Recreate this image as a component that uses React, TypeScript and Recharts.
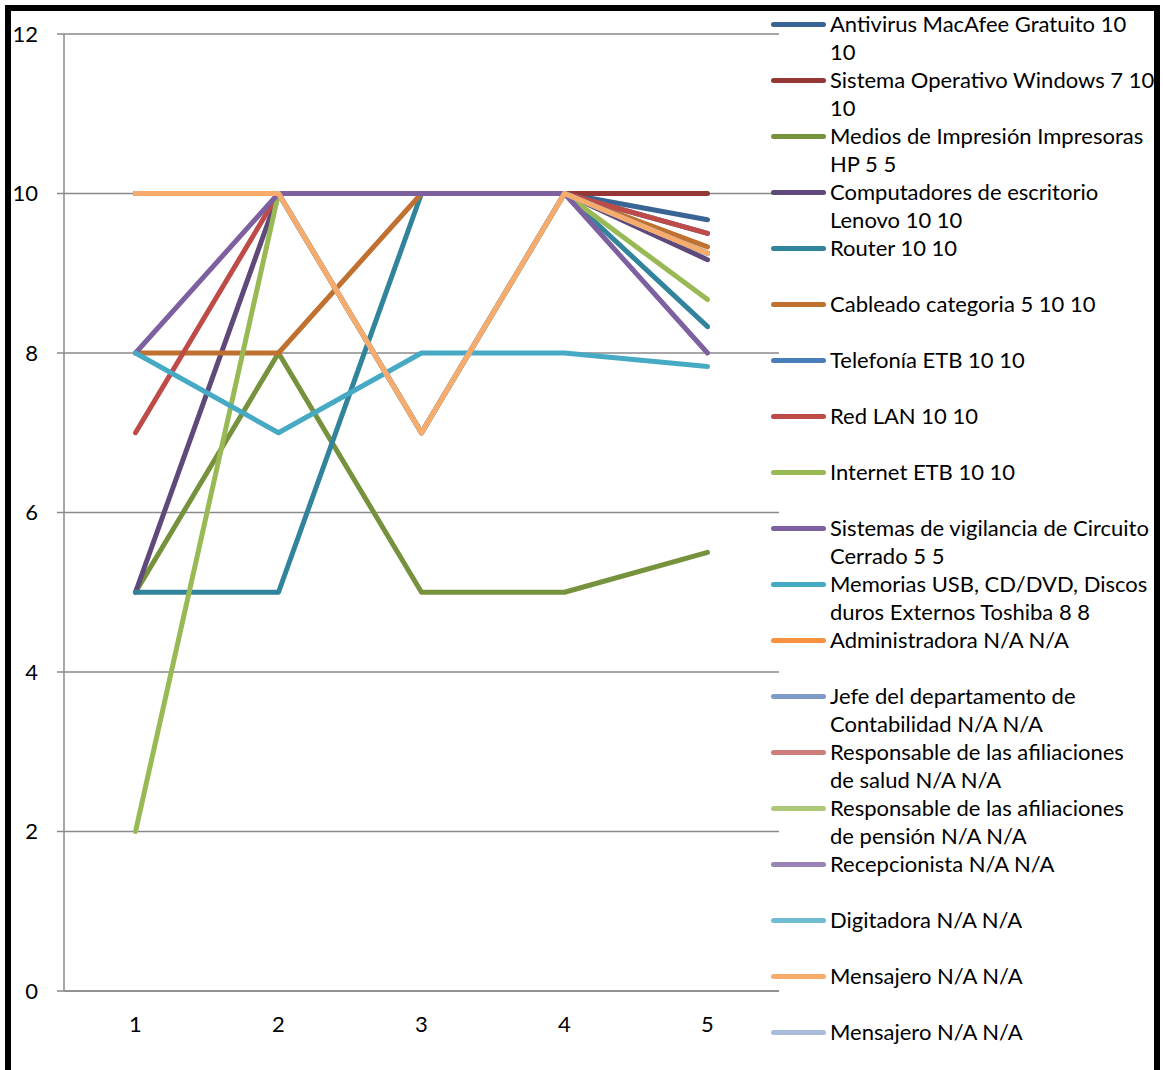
import { LineChart, Line, XAxis, YAxis, CartesianGrid, Legend } from 'recharts'

const categories = [1, 2, 3, 4, 5]

// one array per series, values at categories 1..5
const antivirus = [10, 10, 10, 10, 9.67]
const sistemaOperativo = [10, 10, 10, 10, 10]
const mediosImpresion = [5, 8, 5, 5, 5.5]
const computadores = [5, 10, 10, 10, 9.17]
const router = [5, 5, 10, 10, 8.33]
const cableado = [8, 8, 10, 10, 9.33]
const telefonia = [10, 10, 10, 10, 9.5]
const redLan = [7, 10, 10, 10, 9.5]
const internet = [2, 10, 10, 10, 8.67]
const vigilancia = [8, 10, 10, 10, 8]
const memorias = [8, 7, 8, 8, 7.83]
const administradora = [10, 10, 7, 10, 9.25]
const jefeContabilidad = [10, 10, 7, 10, 9.25]
const respSalud = [10, 10, 7, 10, 9.25]
const respPension = [10, 10, 7, 10, 9.25]
const recepcionista = [10, 10, 7, 10, 9.25]
const digitadora = [10, 10, 7, 10, 9.25]
const mensajero = [10, 10, 7, 10, 9.25]
const mensajero2: (number | null)[] = [null, null, null, null, null]

// legend names, \n marks where the legend wraps
const seriesNames = [
  'Antivirus MacAfee Gratuito 10\n10',
  'Sistema Operativo Windows 7 10\n10',
  'Medios de Impresión Impresoras\nHP 5 5',
  'Computadores de escritorio\nLenovo 10 10',
  'Router 10 10',
  'Cableado categoria 5 10 10',
  'Telefonía ETB 10 10',
  'Red LAN 10 10',
  'Internet ETB 10 10',
  'Sistemas de vigilancia de Circuito\nCerrado 5 5',
  'Memorias USB, CD/DVD, Discos\nduros Externos Toshiba 8 8',
  'Administradora N/A N/A',
  'Jefe del departamento de\nContabilidad N/A N/A',
  'Responsable de las afiliaciones\nde salud N/A N/A',
  'Responsable de las afiliaciones\nde pensión N/A N/A',
  'Recepcionista N/A N/A',
  'Digitadora N/A N/A',
  'Mensajero N/A N/A',
  'Mensajero N/A N/A',
]

const seriesValues = [
  antivirus, sistemaOperativo, mediosImpresion, computadores, router, cableado,
  telefonia, redLan, internet, vigilancia, memorias, administradora,
  jefeContabilidad, respSalud, respPension, recepcionista, digitadora, mensajero, mensajero2,
]

const colors = [
  '#3a6494', '#943735', '#76923c', '#5f497a', '#31849b', '#c0712f',
  '#4a7ebb', '#be4b48', '#98b954', '#7d60a0', '#46aac5', '#f69240',
  '#7e9bc8', '#cf7e7c', '#afc97a', '#9a83b5', '#6fbdd1', '#f9ab6b', '#a9bcda',
]

const yTicks = [0, 2, 4, 6, 8, 10, 12]
const xBoundaries = [0.5, 1.5, 2.5, 3.5, 4.5, 5.5]

const data = categories.map((x, i) => {
  const row: Record<string, number | null> = { x }
  seriesValues.forEach((vals, s) => { row['s' + s] = vals[i] })
  return row
})

const FONT = 'Lato, "Open Sans", sans-serif'
const GRID = '#8a8a8a'

function LegendBox() {
  return (
    <div style={{ width: 384, fontFamily: FONT, fontSize: 22, color: '#000' }}>
      {seriesNames.map((name, i) => (
        <div key={i} style={{ height: 56, display: 'flex', alignItems: 'flex-start', marginLeft: -8 }}>
          <div style={{ width: 55, height: 5, borderRadius: 3, background: colors[i], marginTop: 11.5, flex: 'none' }} />
          <div style={{ marginLeft: 4, lineHeight: '28px', whiteSpace: 'pre' }}>{name}</div>
        </div>
      ))}
    </div>
  )
}

export default function App() {
  return (
    <div style={{ position: 'absolute', left: 0, top: 0, width: 1163, height: 1070, overflow: 'hidden', background: '#fff' }}>
      <LineChart width={1163} height={1070} data={data} margin={{ top: 34, right: 0, bottom: 0, left: 0 }}>
        <CartesianGrid vertical={false} stroke={GRID} strokeWidth={1.5} />
        <XAxis
          xAxisId="marks" type="number" dataKey="x" domain={[0.5, 5.5]} ticks={xBoundaries}
          tick={false} tickSize={7} tickLine={{ stroke: GRID, strokeWidth: 1.5 }} axisLine={false} height={0}
        />
        <XAxis
          type="number" dataKey="x" domain={[0.5, 5.5]} ticks={categories} interval={0}
          tickLine={false} tickSize={7} tickMargin={18} height={79}
          axisLine={{ stroke: GRID, strokeWidth: 1.5 }}
          tick={{ fill: '#000', fontSize: 22, fontFamily: FONT }}
        />
        <YAxis
          type="number" domain={[0, 12]} ticks={yTicks} interval={0} width={64}
          tickSize={7} tickMargin={19} tickLine={{ stroke: GRID, strokeWidth: 1.5 }}
          axisLine={{ stroke: GRID, strokeWidth: 1.5 }}
          tick={{ fill: '#000', fontSize: 22, fontFamily: FONT }}
        />
        <Legend layout="vertical" align="right" verticalAlign="top" wrapperStyle={{ top: 10 }} content={() => <LegendBox />} />
        {seriesNames.map((name, i) => (
          <Line
            key={i} dataKey={'s' + i} name={name} stroke={colors[i]} strokeWidth={5}
            strokeLinecap="round" strokeLinejoin="round" dot={false} activeDot={false}
            isAnimationActive={false}
          />
        ))}
      </LineChart>
      <div style={{ position: 'absolute', left: 5, top: 5, width: 1155, height: 1075, border: '6px solid #000', boxSizing: 'border-box', pointerEvents: 'none' }} />
    </div>
  )
}
